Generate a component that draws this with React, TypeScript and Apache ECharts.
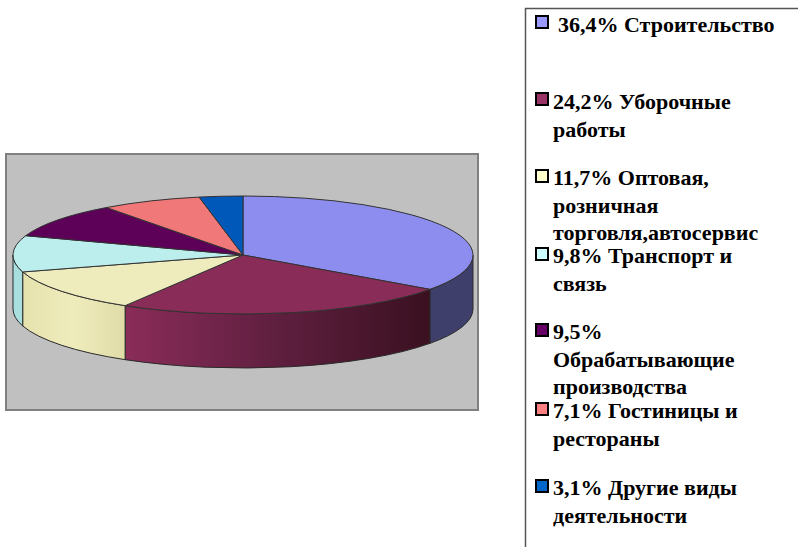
import React, { useEffect, useRef } from "react";
import * as echarts from "echarts";

const shares = [36.4, 24.2, 11.7, 9.8, 9.5, 7.1, 3.1];
const names = [
  "Строительство",
  "Уборочные\nработы",
  "Оптовая,\nрозничная\nторговля,автосервис",
  "Транспорт и\nсвязь",
  "Обрабатывающие\nпроизводства",
  "Гостиницы и\nрестораны",
  "Другие виды\nдеятельности",
];
const legendLabels = [
  "36,4% Строительство",
  "24,2% Уборочные\nработы",
  "11,7% Оптовая,\nрозничная\nторговля,автосервис",
  "9,8% Транспорт и\nсвязь",
  "9,5%\nОбрабатывающие\nпроизводства",
  "7,1% Гостиницы и\nрестораны",
  "3,1% Другие виды\nдеятельности",
];
const topColors = ["#8d8df0", "#8a2c58", "#eeecbc", "#bceeee", "#5c0058", "#f07878", "#0058b8"];
const markerColors = ["#9999ff", "#993366", "#ffffcc", "#ccffff", "#660066", "#ff8080", "#0066cc"];
const legendMarkerY = [16, 93, 170, 248, 324, 403, 480];
const legendTextY = [11, 88, 164, 242, 318, 397, 474];
const legendTextX = [558, 553, 553, 553, 553, 553, 553];

const CX = 243;
const CY = 255;
const RX = 230;
const RY = 59;
const DEPTH = 54;
const TILT = 3.8;

const total = shares.reduce((a, b) => a + b, 0);
const boundaries: number[] = [0];
shares.forEach((v, i) => boundaries.push(boundaries[i] + (v / total) * 360));

function viewAngle(deg: number) {
  const r = (deg * Math.PI) / 180;
  return deg - (TILT * (1 - Math.cos(r))) / 2;
}
function pt(deg: number, dy = 0): [number, number] {
  const r = (deg * Math.PI) / 180;
  return [CX + RX * Math.sin(r), CY - RY * Math.cos(r) + dy];
}
function sideGradient(i: number) {
  const stops: Record<number, [string, string, string]> = {
    0: ["#3f3f6c", "#3f3f6c", "#3f3f6c"],
    1: ["#8a2c58", "#5f1f3f", "#3a1020"],
    2: ["#e6e2ae", "#efecbc", "#e0dca8"],
    3: ["#a8dede", "#a8dede", "#a8dede"],
    4: ["#5c0058", "#5c0058", "#5c0058"],
    5: ["#f07878", "#f07878", "#f07878"],
    6: ["#0058b8", "#0058b8", "#0058b8"],
  };
  const s = stops[i];
  const [c0, c1, c2] = i === 1 ? s : [s[0], s[1], s[2]];
  return new echarts.graphic.LinearGradient(0, 0, 1, 0, [
    { offset: 0, color: c0 },
    { offset: 0.5, color: c1 },
    { offset: 1, color: c2 },
  ]);
}

const renderSlice = (params: any) => {
  const i = params.dataIndex;
  const a0 = viewAngle(boundaries[i]);
  const a1 = viewAngle(boundaries[i + 1]);
  const children: any[] = [];
  const s0 = Math.max(a0, 90);
  const s1 = Math.min(a1, 270);
  if (s1 > s0) {
    const [x0, y0] = pt(s0);
    const [x1, y1] = pt(s1);
    children.push({
      type: "path",
      shape: {
        pathData: `M${x0} ${y0}A${RX} ${RY} 0 0 1 ${x1} ${y1}L${x1} ${y1 + DEPTH}A${RX} ${RY} 0 0 0 ${x0} ${y0 + DEPTH}Z`,
      },
      style: { fill: sideGradient(i), stroke: "#2a2a2a", lineWidth: 1, opacity: 1 },
    });
  }
  const [x0, y0] = pt(a0);
  const [x1, y1] = pt(a1);
  const large = a1 - a0 > 180 ? 1 : 0;
  children.push({
    type: "path",
    shape: { pathData: `M${CX} ${CY}L${x0} ${y0}A${RX} ${RY} 0 ${large} 1 ${x1} ${y1}Z` },
    style: { fill: topColors[i], stroke: "#333333", lineWidth: 1 },
  });
  return { type: "group", children };
};

export default function App() {
  const ref = useRef<HTMLDivElement>(null);
  useEffect(() => {
    const chart = echarts.init(ref.current!, null, { renderer: "svg" });
    const legendItems: any[] = [];
    legendLabels.forEach((label, i) => {
      legendItems.push({
        type: "rect",
        shape: { x: 536, y: legendMarkerY[i], width: 12, height: 12 },
        style: { fill: markerColors[i], stroke: "#000000", lineWidth: 2 },
      });
      legendItems.push({
        type: "text",
        x: legendTextX[i],
        y: legendTextY[i],
        style: {
          text: label,
          font: 'bold 22px "Liberation Serif"',
          lineHeight: 27.5,
          fill: "#000000",
        },
      });
    });
    chart.setOption({
      animation: false,
      backgroundColor: "#ffffff",
      graphic: [
        {
          type: "rect",
          z: 0,
          shape: { x: 6, y: 154, width: 472, height: 256 },
          style: { fill: "#c0c0c0", stroke: "#808080", lineWidth: 2 },
        },
        {
          type: "polyline",
          z: 0,
          shape: { points: [[525.5, 547], [525.5, 8.5], [798, 8.5]] },
          style: { fill: "none", stroke: "#555555", lineWidth: 1.5 },
        },
        ...legendItems,
      ],
      series: [
        {
          type: "custom",
          coordinateSystem: "none",
          z: 3,
          silent: true,
          renderItem: renderSlice,
          data: shares.map((v, i) => ({ name: names[i], value: v })),
        },
      ],
    });
    return () => chart.dispose();
  }, []);
  return <div ref={ref} style={{ position: "fixed", left: 0, top: 0, width: 798, height: 547 }} />;
}
